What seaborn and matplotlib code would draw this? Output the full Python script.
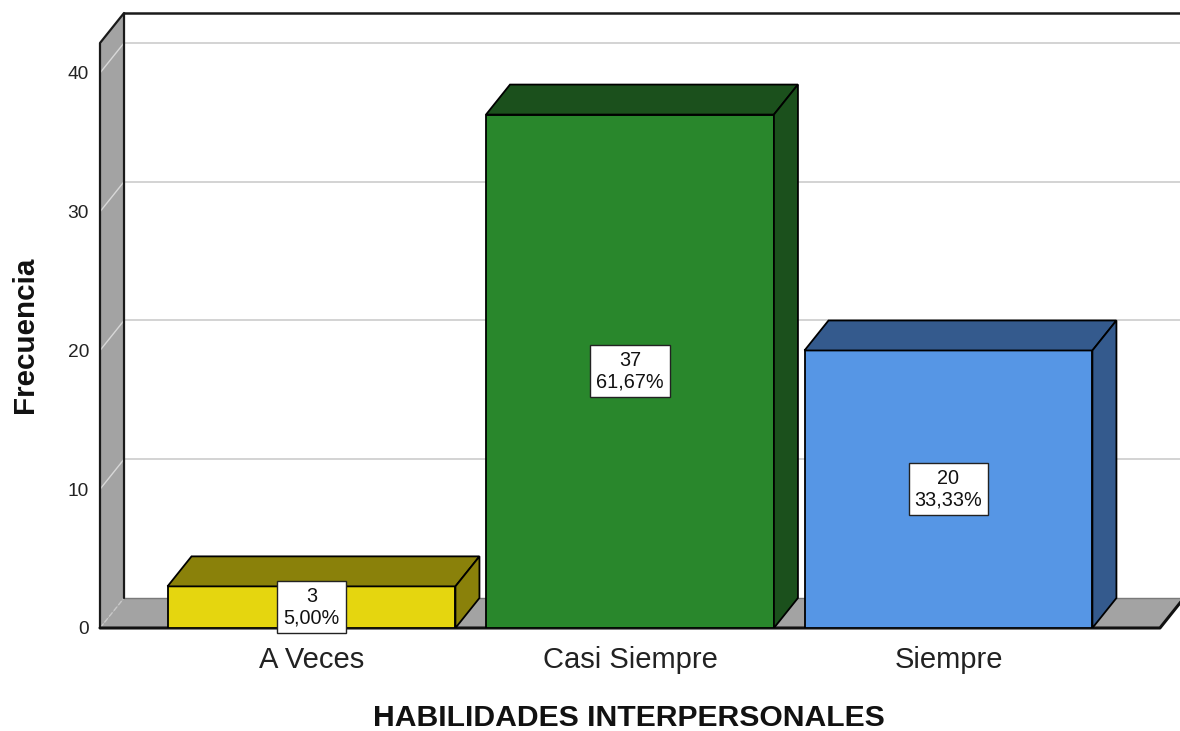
import matplotlib
matplotlib.use("Agg")
import matplotlib.pyplot as plt
import seaborn as sns
import pandas as pd

# ---- data ----
categories = ["A Veces", "Casi Siempre", "Siempre"]
counts = [3, 37, 20]
percents = ["5,00%", "61,67%", "33,33%"]
yticks = [0, 10, 20, 30, 40]
front_colors = ["#E5D60F", "#29872C", "#5696E5"]
shade_colors = ["#8A810A", "#1B501C", "#345A8D"]
x_title = "HABILIDADES INTERPERSONALES"
y_title = "Frecuencia"

sns.set_theme(style="white")
plt.rcParams["font.family"] = ["Liberation Sans", "DejaVu Sans"]

W, H = 1180, 731
fig = plt.figure(figsize=(W / 100, H / 100), dpi=100)
# axes placed in pixel geometry
left_px, right_px, top_px, bot_px = 100, 1180, 13, 628
ax = fig.add_axes([left_px / W, (H - bot_px) / H,
                   (right_px - left_px) / W, (bot_px - top_px) / H])

df = pd.DataFrame({"cat": categories, "n": counts})
bar_w = 0.904
sns.barplot(data=df, x="cat", y="n", hue="cat", order=categories,
            hue_order=categories, palette=front_colors, legend=False,
            width=bar_w, edgecolor="black", linewidth=1.3, ax=ax,
            saturation=1, zorder=5)

x0, x1 = -0.664, 2.727
front_right = 2.664
y_top = 44.32
ax.set_xlim(x0, x1)
ax.set_ylim(0, y_top)
dx, dy = 0.0754, 2.162
front_top = y_top - dy

gray = "#A3A3A3"
# back wall gridlines
for t in yticks[1:]:
    ax.plot([x0 + dx, x1], [t + dy, t + dy], color="#D0D0D0", lw=1.3, zorder=1)
    ax.plot([x0, x0 + dx], [t, t + dy], color="#D8D8D8", lw=1.0, zorder=3)
# left wall
ax.fill([x0, x0, x0 + dx, x0 + dx], [0, front_top, y_top, dy],
        facecolor=gray, edgecolor="none", zorder=2)
ax.plot([x0, x0, x0 + dx, x0 + dx], [0, front_top, y_top, dy],
        color="#1A1A1A", lw=1.6, zorder=4, clip_on=False)
ax.plot([x0 + dx, x1 + 0.1], [y_top, y_top], color="#1A1A1A", lw=1.8,
        zorder=4, clip_on=False)
# floor
ax.fill([x0, front_right, front_right + dx, x0 + dx], [0, 0, dy, dy],
        facecolor=gray, edgecolor="none", zorder=2)
ax.plot([x0 + dx, front_right + dx], [dy, dy], color="#7A7A7A", lw=1.0, zorder=2)
ax.plot([x0, x0 + dx], [0, dy], color="#C8C8C8", lw=1.0, ls="--", zorder=3)
ax.plot([x0, front_right, front_right + dx], [0, 0, dy], color="#111111",
        lw=2.2, zorder=4, clip_on=False)

# 3D faces of bars
for i, v in enumerate(counts):
    l, r = i - bar_w / 2, i + bar_w / 2
    ax.fill([l, r, r + dx, l + dx], [v, v, v + dy, v + dy],
            facecolor=shade_colors[i], edgecolor="black", lw=1.3, zorder=5)
    ax.fill([r, r + dx, r + dx, r], [0, dy, v + dy, v],
            facecolor=shade_colors[i], edgecolor="black", lw=1.3, zorder=5)
    ax.text(i, v / 2, f"{v}\n{percents[i]}", ha="center", va="center",
            fontsize=14.3, linespacing=1.12, color="#111111", zorder=7,
            bbox=dict(boxstyle="square,pad=0.3", facecolor="white",
                      edgecolor="#222222", linewidth=1.0))

for s in ax.spines.values():
    s.set_visible(False)
ax.grid(False)
ax.set_yticks(yticks)
ax.set_yticklabels([str(t) for t in yticks])
ax.tick_params(axis="y", length=0, pad=8, labelsize=13.8, labelcolor="#222222")
ax.set_xticks(range(len(categories)))
ax.set_xticklabels(categories)
ax.tick_params(axis="x", length=0, pad=13, labelsize=21, labelcolor="#222222")

ax.set_xlabel(x_title, fontsize=21.7, fontweight="bold", color="#111111")
ax.xaxis.set_label_coords((629 - left_px) / (right_px - left_px),
                          (bot_px - 718) / (bot_px - top_px))
ax.xaxis.label.set_va("center")
ax.set_ylabel(y_title, fontsize=21.3, fontweight="bold", color="#111111")
ax.yaxis.set_label_coords((25 - left_px) / (right_px - left_px),
                          (bot_px - 335) / (bot_px - top_px))
ax.yaxis.label.set_va("center")

fig.savefig("out.png", dpi=100, facecolor="white")
